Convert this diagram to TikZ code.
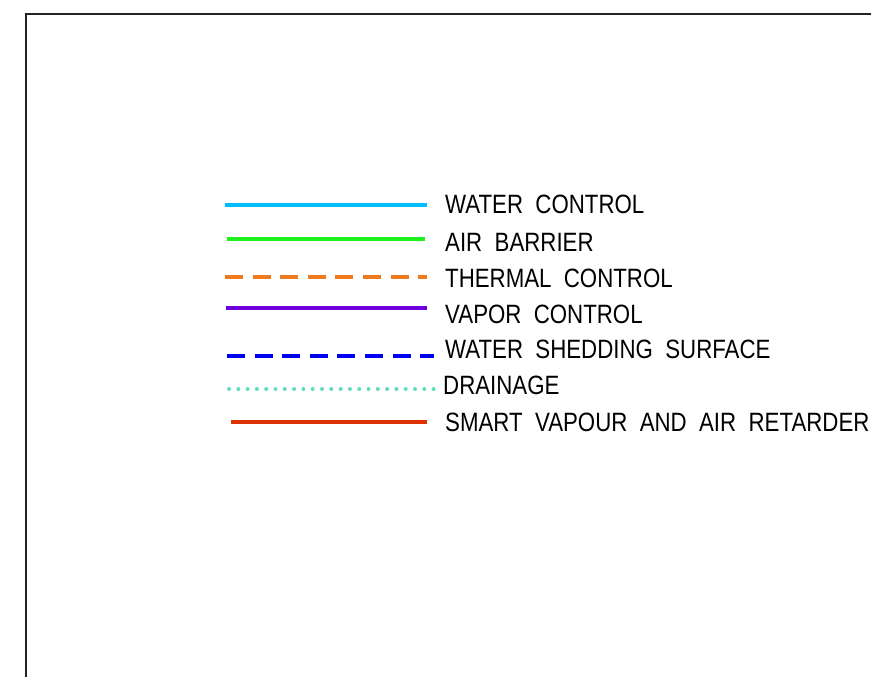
\documentclass[tikz,border=0pt]{standalone}
\usepackage{fontspec}
\newfontfamily\legendfont[FakeStretch=0.84,WordSpace=2.0]{Liberation Sans}
\definecolor{framec}{RGB}{35,35,35}
\definecolor{waterc}{RGB}{0,191,255}
\definecolor{airc}{RGB}{30,240,30}
\definecolor{thermc}{RGB}{240,122,30}
\definecolor{vaporc}{RGB}{110,0,220}
\definecolor{shedc}{RGB}{0,0,240}
\definecolor{drainc}{RGB}{100,220,190}
\definecolor{smartc}{RGB}{220,50,0}
\begin{document}
\begin{tikzpicture}[x=1pt,y=-1pt,
  legline/.style={line width=4pt},
  dashline/.style={line width=4pt,dash pattern=on 18pt off 9.6pt},
  dotline/.style={line width=4pt,line cap=round,dash pattern=on 0pt off 9.3pt},
  legtext/.style={anchor=west,inner sep=0pt,font=\legendfont\fontsize{26.5}{28}\selectfont}]
\useasboundingbox (0,0) rectangle (871,677);
\draw[framec,line width=2.5pt] (26,690) -- (26,14) -- (890,14);
% legend lines
\coordinate (w1) at (225,204.5); \coordinate (w2) at (427,204.5);
\coordinate (a1) at (227,238.5); \coordinate (a2) at (425,238.5);
\coordinate (t1) at (225,276.7); \coordinate (t2) at (427,276.7);
\coordinate (v1) at (226,307.7); \coordinate (v2) at (427,307.7);
\coordinate (s1) at (227,356);   \coordinate (s2) at (434,356);
\coordinate (d1) at (229,389);   \coordinate (d2) at (434,389);
\coordinate (m1) at (231,422);   \coordinate (m2) at (427,422);
\draw[legline,waterc] (w1) -- (w2);
\draw[legline,airc] (a1) -- (a2);
\draw[dashline,thermc] (t1) -- (t2);
\draw[legline,vaporc] (v1) -- (v2);
\draw[dashline,shedc] (s1) -- (s2);
\draw[dotline,drainc] (d1) -- (d2);
\draw[legline,smartc] (m1) -- (m2);
% labels
\node[legtext] (lw) at (445,204.5) {WATER CONTROL};
\node[legtext] (la) at (445,242) {AIR BARRIER};
\node[legtext] (lt) at (445,278.5) {THERMAL CONTROL};
\node[legtext] (lv) at (445,314) {VAPOR CONTROL};
\node[legtext] (ls) at (445,349.5) {WATER SHEDDING SURFACE};
\node[legtext] (ld) at (443,385) {DRAINAGE};
\node[legtext] (lm) at (445,422) {SMART VAPOUR AND AIR RETARDER};
\end{tikzpicture}
\end{document}
